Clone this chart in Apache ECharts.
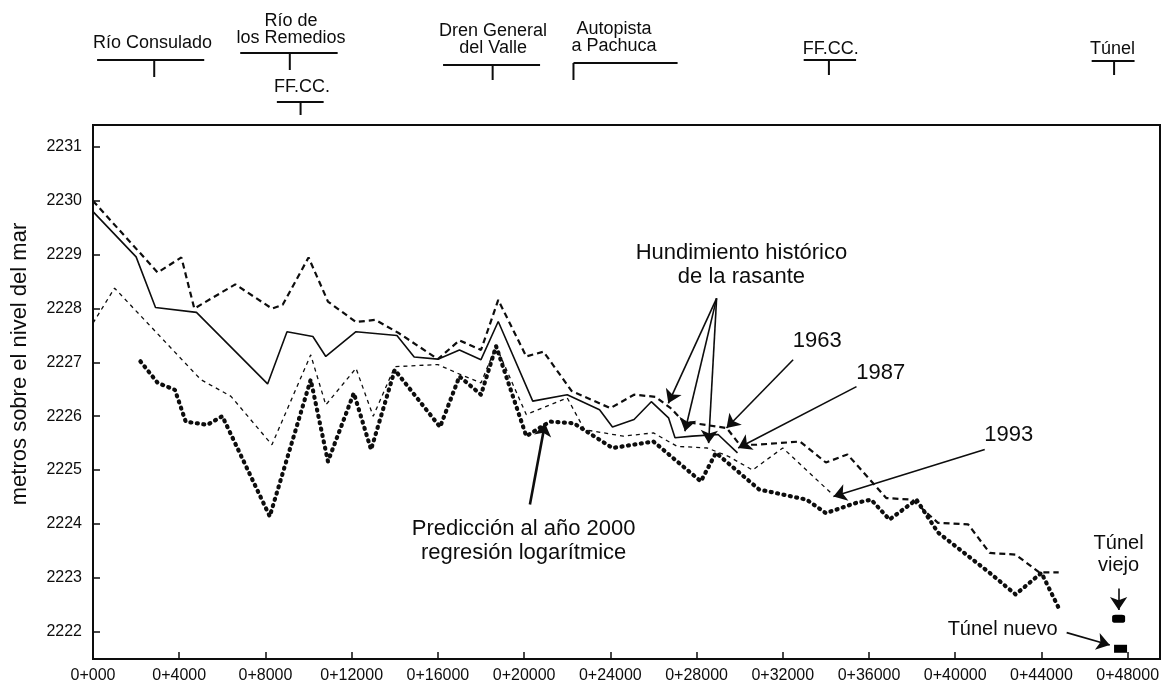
<!DOCTYPE html>
<html>
<head>
<meta charset="utf-8">
<script src="https://cdn.jsdelivr.net/npm/echarts@6/dist/echarts.min.js"></script>
<style>
  html, body { margin: 0; padding: 0; background: #fff; }
  #chart { width: 1165px; height: 683px; }
</style>
</head>
<body>
<div id="chart"></div>
<script>
// Perfil de la rasante del Gran Canal: hundimiento histórico y predicción al año 2000

// Cadenamiento (m) y elevación (msnm) de cada perfil
const chain1963 = [0, 3000, 4100, 4700, 6600, 8300, 8800, 10000, 10900, 12200, 13100, 14200, 16000, 17000, 18000, 18800, 20100, 20900, 22200, 24000, 25100, 26100, 26800, 27400, 29400, 30000, 30800, 32800, 34000, 35000, 36800, 38000, 39200, 40600, 41600, 42800, 43900, 44800];
const elev1963  = [2230.0, 2228.67, 2228.95, 2228.0, 2228.45, 2228.0, 2228.07, 2228.95, 2228.13, 2227.75, 2227.79, 2227.54, 2227.06, 2227.41, 2227.23, 2228.16, 2227.11, 2227.2, 2226.47, 2226.15, 2226.4, 2226.36, 2226.15, 2225.9, 2225.78, 2225.47, 2225.47, 2225.53, 2225.14, 2225.29, 2224.48, 2224.45, 2224.02, 2223.99, 2223.46, 2223.43, 2223.1, 2223.1];

const chain1987 = [0, 2000, 2900, 4800, 8100, 9000, 10200, 10800, 12200, 14100, 14900, 16000, 17000, 18000, 18800, 20400, 22000, 23500, 24100, 25100, 25900, 26700, 27000, 27800, 29000, 29900];
const elev1987  = [2229.8, 2228.96, 2228.02, 2227.93, 2226.6, 2227.57, 2227.48, 2227.11, 2227.57, 2227.5, 2227.1, 2227.06, 2227.23, 2227.05, 2227.76, 2226.28, 2226.4, 2226.12, 2225.8, 2225.94, 2226.27, 2225.97, 2225.6, 2225.63, 2225.66, 2225.32];

const chain1993 = [0, 1000, 5000, 6400, 8300, 10100, 10800, 12200, 13000, 14000, 16000, 16900, 18000, 18700, 20100, 22000, 22800, 24600, 26000, 27100, 28500, 29500, 30600, 32000, 34300];
const elev1993  = [2227.73, 2228.38, 2226.68, 2226.37, 2225.47, 2227.14, 2226.21, 2226.89, 2226.0, 2226.92, 2226.96, 2226.8, 2226.62, 2227.3, 2226.03, 2226.34, 2225.75, 2225.63, 2225.69, 2225.44, 2225.41, 2225.25, 2225.0, 2225.41, 2224.55];

const chain2000 = [2200, 3000, 3800, 4300, 5300, 6000, 8200, 10100, 10900, 12100, 12900, 14000, 16100, 17000, 18000, 18700, 20100, 21200, 22300, 24100, 26000, 28200, 28900, 30900, 33100, 34000, 35400, 36100, 36950, 38200, 39200, 41600, 42800, 44000, 44800];
const elev2000  = [2227.02, 2226.62, 2226.49, 2225.9, 2225.84, 2226.0, 2224.14, 2226.68, 2225.16, 2226.43, 2225.38, 2226.86, 2225.8, 2226.74, 2226.4, 2227.3, 2225.63, 2225.9, 2225.87, 2225.41, 2225.53, 2224.79, 2225.32, 2224.64, 2224.45, 2224.2, 2224.39, 2224.45, 2224.08, 2224.45, 2223.84, 2223.09, 2222.69, 2223.09, 2222.44];

// Portales del túnel viejo y del túnel nuevo
const tunnelChain = [47580, 47670];
const tunnelElev  = [2222.24, 2221.68];

// Marcas de los ejes
const xTicks = [0, 4000, 8000, 12000, 16000, 20000, 24000, 28000, 32000, 36000, 40000, 44000, 48000];
const xTickLabels = ['0+000', '0+4000', '0+8000', '0+12000', '0+16000', '0+20000', '0+24000', '0+28000', '0+32000', '0+36000', '0+40000', '0+44000', '0+48000'];
const yTicks = [2222, 2223, 2224, 2225, 2226, 2227, 2228, 2229, 2230, 2231];

// Referencias sobre el trazo (cadenamientos)
const refNames  = ['Río Consulado', 'Río de\nlos Remedios', 'FF.CC.', 'Dren General\ndel Valle', 'Autopista\na Pachuca', 'FF.CC.', 'Túnel'];
const refText   = [2760, 9190, 9700, 18560, 24170, 34230, 47300];
const refStem   = [2840, 9130, 9630, 18540, 22290, 34140, 47370];
const refFrom   = [190, 6830, 8530, 16240, 22290, 32970, 46330];
const refTo     = [5160, 11350, 10700, 20740, 27120, 35400, 48320];

// Flechas de anotación: origen y punta en coordenadas de la gráfica
const arrows = [
  [[28930, 2228.19], [26690, 2226.24]],
  [[28930, 2228.19], [27460, 2225.72]],
  [[28930, 2228.19], [28560, 2225.50]],
  [[32480, 2227.05], [29390, 2225.78]],
  [[35420, 2226.55], [29930, 2225.41]],
  [[41370, 2225.38], [34350, 2224.51]],
  [[20270, 2224.36], [20970, 2225.87]],
  [[47580, 2222.80], [47580, 2222.40]],
  [[45170, 2221.98], [47170, 2221.75]]
];

// Textos de anotación
const noteText = ['Hundimiento histórico\nde la rasante', '1963', '1987', '1993', 'Predicción al año 2000\nregresión logarítmice', 'Túnel\nviejo', 'Túnel nuevo'];
const noteAt = [[30081, 2228.81], [33603, 2227.39], [36546, 2226.80], [42480, 2225.66], [19977, 2223.69], [47580, 2223.43], [42201, 2222.04]];

const zip = (xs, ys) => xs.map((x, i) => [x, ys[i]]);

const INK = '#0d0d0d';
const FONT = '"Liberation Sans", Arial, Helvetica, sans-serif';

// Posiciones verticales (px) de las referencias superiores
const refLayout = [
  { textY: 43, barY: 60, stemEnd: 77 },
  { textY: 38, barY: 53, stemEnd: 70 },
  { textY: 87, barY: 102, stemEnd: 115 },
  { textY: 48, barY: 65, stemEnd: 80 },
  { textY: 46, barY: 63, stemEnd: 80 },
  { textY: 49, barY: 60, stemEnd: 75 },
  { textY: 49, barY: 61, stemEnd: 75 }
];
const noteSize = [22, 22, 22, 22, 22, 20, 20];

const chart = echarts.init(document.getElementById('chart'), null, { renderer: 'canvas' });

const option = {
  animation: false,
  backgroundColor: '#fff',
  grid: {
    left: 93, right: 5, top: 125, bottom: 24,
    show: true, borderColor: INK, borderWidth: 2,
    backgroundColor: 'transparent',
    containLabel: false, outerBoundsMode: 'none'
  },
  xAxis: {
    type: 'value', min: 0, max: 49500,
    axisLine: { show: true, onZero: false, lineStyle: { color: INK, width: 2 } },
    axisTick: { show: true, inside: true, length: 7, customValues: xTicks, lineStyle: { color: INK, width: 1.5 } },
    axisLabel: {
      customValues: xTicks, margin: 9, color: INK, fontSize: 16, fontFamily: FONT,
      formatter: v => xTickLabels[xTicks.indexOf(v)]
    },
    splitLine: { show: false }
  },
  yAxis: {
    type: 'value', min: 2221.49, max: 2231.41,
    axisLine: { show: true, onZero: false, lineStyle: { color: INK, width: 2 } },
    axisTick: { show: true, inside: true, length: 7, customValues: yTicks, lineStyle: { color: INK, width: 1.5 } },
    axisLabel: {
      customValues: yTicks, margin: 11, color: INK, fontSize: 16, fontFamily: FONT,
      formatter: v => String(v)
    },
    splitLine: { show: false }
  },
  series: [
    {
      name: '1963', type: 'line', data: zip(chain1963, elev1963),
      symbol: 'none', silent: true,
      lineStyle: { color: INK, width: 2.2, type: [6, 4] }
    },
    {
      name: '1987', type: 'line', data: zip(chain1987, elev1987),
      symbol: 'none', silent: true,
      lineStyle: { color: INK, width: 1.6, type: 'solid' },
      markLine: {
        silent: true, animation: false,
        symbol: ['none', 'arrow'], symbolSize: 13,
        label: { show: false },
        itemStyle: { color: INK },
        lineStyle: { color: INK, width: 1.6, type: 'solid', opacity: 1 },
        emphasis: { disabled: true },
        data: arrows.map(([a, b], i) => [
          { coord: a, lineStyle: { width: i === 6 ? 2.6 : 1.6 } },
          { coord: b }
        ])
      }
    },
    {
      name: '1993', type: 'line', data: zip(chain1993, elev1993),
      symbol: 'none', silent: true,
      lineStyle: { color: INK, width: 1.3, type: [4, 4] }
    },
    {
      name: '2000', type: 'line', data: zip(chain2000, elev2000),
      symbol: 'none', silent: true,
      lineStyle: { color: INK, width: 4.2, type: [1, 5.5], cap: 'round' }
    },
    {
      name: 'Túneles', type: 'scatter', silent: true,
      data: zip(tunnelChain, tunnelElev).map((p, i) => ({
        value: p,
        symbol: i === 0 ? 'roundRect' : 'rect',
        symbolSize: [13, 8]
      })),
      itemStyle: { color: '#000', opacity: 1 }
    }
  ]
};

chart.setOption(option);

// Anotaciones dibujadas en coordenadas convertidas por la gráfica
const toPx = p => chart.convertToPixel({ gridIndex: 0 }, p);
const toPxX = m => chart.convertToPixel({ xAxisIndex: 0 }, m);

const graphics = [];

// Título del eje vertical
graphics.push({
  type: 'text', x: 20, y: 364, rotation: Math.PI / 2,
  style: {
    text: 'metros sobre el nivel del mar', fill: INK,
    font: '22px ' + FONT, align: 'center', verticalAlign: 'middle',
    textAlign: 'center', textVerticalAlign: 'middle'
  }
});

// Referencias del trazo sobre la gráfica
refNames.forEach((name, i) => {
  const L = refLayout[i];
  const lines = name.split('\n').length;
  graphics.push({
    type: 'text', x: toPxX(refText[i]), y: L.textY - (lines - 1) * 17 / 2,
    style: {
      text: name, fill: INK, font: '18px ' + FONT, lineHeight: 17,
      align: 'center', verticalAlign: 'middle', textAlign: 'center', textVerticalAlign: 'middle'
    }
  });
  graphics.push({
    type: 'line',
    shape: { x1: toPxX(refFrom[i]), y1: L.barY, x2: toPxX(refTo[i]), y2: L.barY },
    style: { stroke: INK, lineWidth: 2 }
  });
  const sx = toPxX(refStem[i]);
  graphics.push({
    type: 'line',
    shape: { x1: sx, y1: L.barY, x2: sx, y2: L.stemEnd },
    style: { stroke: INK, lineWidth: 2 }
  });
});

// Textos dentro del área de la gráfica
noteText.forEach((t, i) => {
  const [x, y] = toPx(noteAt[i]);
  const lh = noteSize[i] + 2;
  graphics.push({
    type: 'text', x, y,
    style: {
      text: t, fill: INK, font: noteSize[i] + 'px ' + FONT, lineHeight: lh,
      align: 'center', verticalAlign: 'middle', textAlign: 'center', textVerticalAlign: 'middle'
    }
  });
});

chart.setOption({ graphic: graphics });
</script>
</body>
</html>
